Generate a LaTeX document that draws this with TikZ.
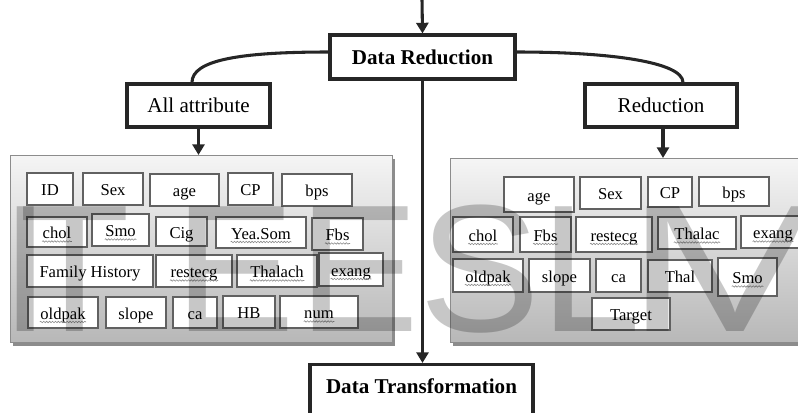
\documentclass[tikz,border=0pt]{standalone}
\usepackage{fontspec}
\setmainfont{Liberation Serif}
\newfontfamily\wmfont{Liberation Sans}
\usetikzlibrary{arrows.meta,shadows,decorations.pathmorphing}
\newcommand\attrnode[6]{\node[attrbox, minimum width={(#3-#1)*0.75pt}, minimum height={(#4-#2)*0.75pt}] (#5) at ({(#1+#3)/2},{(#2+#4)/2}) {#6};}
\newcommand\attru[6]{\attrnode{#1}{#2}{#3}{#4}{#5}{#6}%
  \node[attrbox, draw=none, fill=none] (#5t) at (#5.center) {\phantom{#6}};%
  \draw[wavy] ([yshift=-2.2pt]#5t.base west) -- ([yshift=-2.2pt]#5t.base east);}
\tikzset{
  attrbox/.style={draw=black!62, fill=white, line width=0.8pt, inner sep=0pt,
    text height=12.8pt, text depth=3pt,
    font=\fontsize{12.45}{14}\selectfont},
  wavy/.style={draw=black!45, line width=0.45pt, decorate,
    decoration={snake, segment length=2.2pt, amplitude=0.55pt}},
  mainbox/.style={draw=black!85, fill=white, line width=2.3pt, inner sep=0pt,
    font=\fontsize{15.8}{18}\selectfont},
  panel/.style={anchor=north west, top color=black!4, bottom color=black!28,
    draw=black!45, line width=0.6pt, inner sep=0pt,
    drop shadow={shadow xshift=2pt, shadow yshift=-2.5pt, fill=black!45, opacity=1}},
  conn/.style={draw=black!85, line width=2.3pt},
  arr/.style={-{Triangle[width=9pt,length=8pt]}},
  wm/.style={anchor=base west, inner sep=0pt, text=black, opacity=0.22,
    font=\wmfont\fontsize{136}{136}\selectfont}
}
\begin{document}
\begin{tikzpicture}[x=0.75pt,y=-0.75pt]
\useasboundingbox (0,0) rectangle (798,412);
\clip (0,0) rectangle (798,412);
% panels
\node[panel, minimum width=382*0.75pt, minimum height=187*0.75pt] (lp) at (10,155) {};
\node[panel, minimum width=360*0.75pt, minimum height=184*0.75pt] (rp) at (450,158) {};
% main boxes
\node[mainbox, minimum width=185*0.75pt, minimum height=44*0.75pt] (dr) at (422.5,57) {\bfseries Data Reduction};
\node[mainbox, minimum width=143*0.75pt, minimum height=43*0.75pt] (aa) at (198.5,105.5) {All attribute};
\node[mainbox, minimum width=152*0.75pt, minimum height=43*0.75pt] (rd) at (661,105.5) {Reduction};
\node[mainbox, anchor=north, minimum width=223*0.75pt, text height=29*0.75pt, text depth=40*0.75pt] (dt) at (421.5,363) {\bfseries Data Transformation};
% connectors
\coordinate (topin) at (422,0);
\draw[conn,arr] (topin) -- (dr.north);
\draw[conn] ([yshift=3.75pt]dr.west) .. controls (240,52) and (192,60) .. ([xshift=-4.9pt]aa.north);
\draw[conn] ([yshift=3.75pt]dr.east) .. controls (610,52) and (683,62) .. ([xshift=16.5pt]rd.north);
\draw[conn,arr] (aa.south) -- (aa.south |- lp.north);
\draw[conn,arr] ([xshift=1.5pt]rd.south) -- ([xshift=1.5pt]rd.south |- rp.north);
\draw[conn,arr] (dr.south) -- (dr.south |- dt.north);
% left attributes
\attrnode{27}{173}{73}{205}{l1}{ID}
\attrnode{83}{173}{143}{205}{l2}{Sex}
\attrnode{150}{174}{219}{206}{l3}{age}
\attrnode{228}{173}{273}{205}{l4}{CP}
\attrnode{282}{174}{352}{206}{l5}{bps}
\attru{27}{217}{87}{247}{l6}{chol}
\attru{92}{214}{149}{246}{l7}{Smo}
\attrnode{156}{217}{207}{246}{l8}{Cig}
\attru{216}{217}{306}{248}{l9}{Yea.Som}
\attru{312}{218}{363}{250}{l10}{Fbs}
\attrnode{27}{255}{153}{287}{l11}{Family History}
\attru{156}{255}{232}{287}{l12}{restecg}
\attru{237}{255}{317}{287}{l13}{Thalach}
\attru{319}{253}{383}{286}{l14}{exang}
\attru{28}{297}{98}{328}{l15}{oldpak}
\attrnode{106}{297}{166}{328}{l16}{slope}
\attrnode{173}{297}{217}{328}{l17}{ca}
\attrnode{223}{296}{275}{328}{l18}{HB}
\attru{280}{296}{358}{328}{l19}{num}
% right attributes
\attrnode{504}{177}{574}{212}{r1}{age}
\attrnode{580}{177}{641}{209}{r2}{Sex}
\attrnode{648}{177}{692}{207}{r3}{CP}
\attrnode{699}{177}{769}{206}{r4}{bps}
\attru{453}{217}{513}{252}{r5}{chol}
\attru{520}{217}{571}{252}{r6}{Fbs}
\attru{576}{217}{652}{252}{r7}{restecg}
\attru{658}{217}{736}{249}{r8}{Thalac}
\attru{741}{216}{805}{248}{r9}{exang}
\attru{453}{259}{523}{292}{r10}{oldpak}
\attrnode{529}{259}{590}{292}{r11}{slope}
\attrnode{596}{259}{641}{292}{r12}{ca}
\attrnode{648}{260}{712}{292}{r13}{Thal}
\attru{718}{258}{777}{296}{r14}{Smo}
\attrnode{592}{298}{670}{330}{r15}{Target}
% watermark
\node[wm] (w1) at (0,331) {I};
\node[wm] (w2) at (19,331) {T};
\node[wm] (w3) at (174,331) {E};
\node[wm] (w4) at (298,331) {E};
\node[wm] (w5) at (419,331) {S};
\node[wm] (w6) at (540,331) {L};
\node[wm] (w7) at (625,331) {\scalebox{1.45}[1]{M}};
\end{tikzpicture}
\end{document}
